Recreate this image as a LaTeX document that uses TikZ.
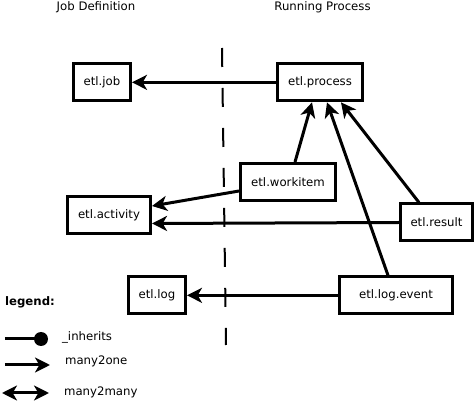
\documentclass[tikz,border=0pt]{standalone}
\usepackage{fontspec}
\setmainfont{DejaVu Sans}
\usetikzlibrary{arrows.meta}

\tikzset{
  txt/.style={font=\fontsize{10}{12}\selectfont,text=black},
  tbl/.style={txt,rectangle,draw=black,line width=0.09cm,minimum height=1.11cm,inner sep=0pt},
  m2o/.style={-{Stealth[length=0.45cm,width=0.45cm,inset=0.13cm]},line width=0.09cm},
  m2m/.style={{Stealth[length=0.45cm,width=0.45cm,inset=0.13cm]}-{Stealth[length=0.45cm,width=0.45cm,inset=0.13cm]},line width=0.09cm},
}

\begin{document}
\begin{tikzpicture}
\useasboundingbox (0,0) rectangle (14.28,12.12);

% headers and separator
\node[txt, anchor=center] (hjob) at (2.88, 11.91) {Job Definition};
\node[txt, anchor=center] (hrun) at (9.675, 11.91) {Running Process};
\draw[black,line width=0.06cm,dash pattern=on 0.57cm off 0.63cm] (6.66,10.68) -- (6.78,1.77);

% tables
\node[tbl, minimum width=1.71cm] (job) at (3.06, 9.65) {etl.job};
\node[tbl, minimum width=2.55cm] (proc) at (9.6, 9.65) {etl.process};
\node[tbl, minimum width=2.85cm] (work) at (8.64, 6.66) {etl.workitem};
\node[tbl, minimum width=2.49cm] (act) at (3.27, 5.655) {etl.activity};
\node[tbl, minimum width=2.16cm] (res) at (13.095, 5.445) {etl.result};
\node[tbl, minimum width=1.71cm] (log) at (4.71, 3.26) {etl.log};
\node[tbl, minimum width=3.39cm] (logev) at (11.88, 3.26) {etl.log.event};

% relations
\draw[m2o] (proc.west) -- (job.east);
\draw[m2o] ([xshift=0.21cm]work.north) -- ([xshift=-0.24cm]proc.south);
\draw[m2o] ([xshift=-0.24cm]logev.north) -- ([xshift=0.21cm]proc.south);
\draw[m2o] ([xshift=-0.525cm]res.north) -- ([xshift=0.63cm]proc.south);
\draw[m2o] ([yshift=-0.27cm]work.west) -- ([yshift=0.285cm]act.east);
\draw[m2o] (res.west) -- ([yshift=-0.24cm]act.east);
\draw[m2o] (logev.west) -- (log.east);

% legend
\node[txt, font=\fontsize{10}{12}\selectfont\bfseries, anchor=west] (leg) at (0.03, 3.06) {legend:};
\coordinate (inhA) at (0.15, 1.95);
\coordinate (inhB) at (1.23, 1.95);
\draw[black,line width=0.09cm] (inhA) -- (inhB);
\fill[black] (inhB) circle (0.21);
\node[txt, anchor=west] (linh) at (1.74, 2.01) {\_inherits};
\coordinate (m2oA) at (0.15, 1.17);
\coordinate (m2oB) at (1.5, 1.17);
\draw[m2o] (m2oA) -- (m2oB);
\node[txt, anchor=west] (lm2o) at (1.83, 1.29) {many2one};
\coordinate (m2mA) at (0.06, 0.33);
\coordinate (m2mB) at (1.47, 0.33);
\draw[m2m] (m2mA) -- (m2mB);
\node[txt, anchor=west] (lm2m) at (1.8, 0.36) {many2many};

\end{tikzpicture}
\end{document}
